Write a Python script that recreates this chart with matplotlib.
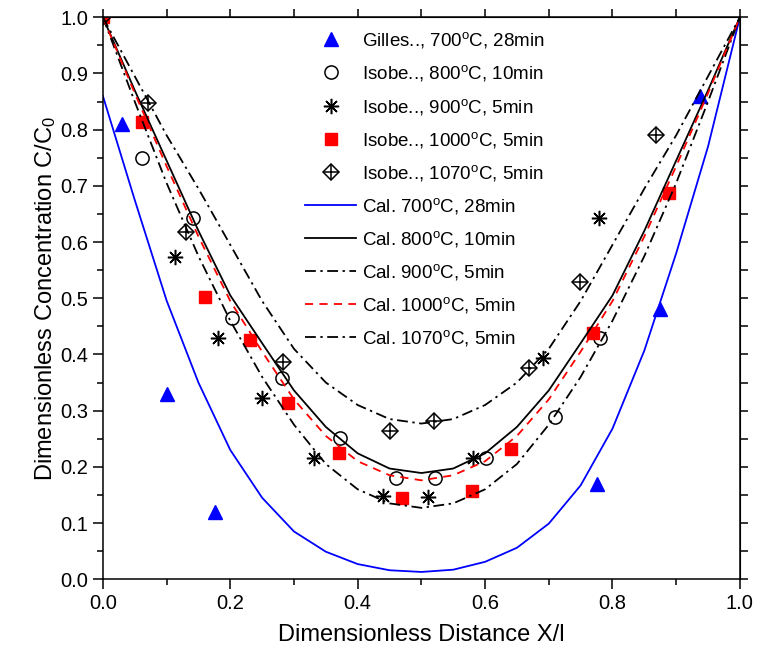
# ------------------------------------------------------------------ #
# Concentration profiles: measured points and calculated curves
# ------------------------------------------------------------------ #
import matplotlib
matplotlib.use("Agg")
import matplotlib.pyplot as plt

plt.rcParams['font.family'] = ['Liberation Sans', 'DejaVu Sans']
plt.rcParams['mathtext.fontset'] = 'custom'
plt.rcParams['mathtext.rm'] = 'Liberation Sans'
plt.rcParams['mathtext.it'] = 'Liberation Sans:italic'

# ------------------------------------------------------------------ #
# Measured data
# ------------------------------------------------------------------ #
gilles_x = [0.03, 0.10, 0.176, 0.776, 0.874, 0.937]
gilles_y = [0.81, 0.33, 0.12, 0.17, 0.48, 0.86]

isobe800_x = [0.061, 0.141, 0.2025, 0.281, 0.372, 0.46, 0.521, 0.601, 0.71, 0.78]
isobe800_y = [0.75, 0.642, 0.464, 0.358, 0.251, 0.18, 0.18, 0.215, 0.288, 0.429]

isobe900_x = [0.113, 0.18, 0.25, 0.331, 0.44, 0.51, 0.581, 0.691, 0.779]
isobe900_y = [0.573, 0.429, 0.322, 0.215, 0.148, 0.146, 0.215, 0.393, 0.642]

isobe1000_x = [0.0, 0.061, 0.161, 0.231, 0.29, 0.37, 0.47, 0.58, 0.64, 0.77, 0.889]
isobe1000_y = [1.0, 0.813, 0.502, 0.425, 0.313, 0.225, 0.145, 0.157, 0.231, 0.438, 0.687]

isobe1070_x = [0.0, 0.071, 0.131, 0.283, 0.45, 0.52, 0.669, 0.749, 0.869]
isobe1070_y = [1.0, 0.847, 0.617, 0.386, 0.264, 0.282, 0.376, 0.529, 0.79]

# ------------------------------------------------------------------ #
# Calculated curves
# ------------------------------------------------------------------ #
cal_x = [0.0, 0.05, 0.1, 0.15, 0.2, 0.25, 0.3, 0.35, 0.4, 0.45, 0.5,
         0.55, 0.6, 0.65, 0.7, 0.75, 0.8, 0.85, 0.9, 0.95, 1.0]
cal700_y = [0.86, 0.675, 0.496, 0.35, 0.23, 0.145, 0.085, 0.049, 0.027, 0.016, 0.013,
            0.017, 0.031, 0.056, 0.099, 0.167, 0.268, 0.407, 0.58, 0.77, 1.0]
cal800_y = [1.0, 0.87, 0.745, 0.62, 0.505, 0.42, 0.336, 0.271, 0.224, 0.197, 0.189,
            0.197, 0.224, 0.271, 0.336, 0.42, 0.505, 0.62, 0.745, 0.87, 1.0]
cal900_y = [1.0, 0.85, 0.705, 0.575, 0.46, 0.36, 0.275, 0.205, 0.16, 0.135, 0.127,
            0.135, 0.16, 0.205, 0.275, 0.36, 0.46, 0.575, 0.705, 0.85, 1.0]
cal1000_y = [1.0, 0.865, 0.735, 0.61, 0.495, 0.405, 0.32, 0.255, 0.21, 0.185, 0.176,
             0.185, 0.21, 0.255, 0.32, 0.405, 0.495, 0.61, 0.735, 0.865, 1.0]
cal1070_y = [1.0, 0.895, 0.79, 0.695, 0.595, 0.495, 0.41, 0.35, 0.31, 0.285, 0.277,
             0.285, 0.31, 0.35, 0.41, 0.495, 0.595, 0.695, 0.79, 0.895, 1.0]

deg = r'$^{\mathrm{o}}$C'

# ------------------------------------------------------------------ #
# Plot
# ------------------------------------------------------------------ #
fig = plt.figure(figsize=(7.62, 6.62), dpi=100)
ax = fig.add_axes([0.135, 0.125, 0.836, 0.849])

h_g, = ax.plot(gilles_x, gilles_y, ls='none', marker='^', ms=10, color='blue')
h_8, = ax.plot(isobe800_x, isobe800_y, ls='none', marker='o', ms=9.5, mfc='white',
               mec='black', mew=1.1)
h_9, = ax.plot(isobe900_x, isobe900_y, ls='none', marker=(8, 2, 0), ms=11,
               color='black', mew=1.1)
h_10, = ax.plot(isobe1000_x, isobe1000_y, ls='none', marker='s', ms=9, color='red')
h_d, = ax.plot(isobe1070_x, isobe1070_y, ls='none', marker='D', ms=8, mfc='none',
               mec='black', mew=1.1)
h_p, = ax.plot(isobe1070_x, isobe1070_y, ls='none', marker='+', ms=11,
               color='black', mew=1.1)

c7, = ax.plot(cal_x, cal700_y, color='blue', lw=1.3)
c8, = ax.plot(cal_x, cal800_y, color='black', lw=1.3)
c9, = ax.plot(cal_x, cal900_y, color='black', lw=1.3, dashes=(6, 2.5, 1.3, 2.5))
c10, = ax.plot(cal_x, cal1000_y, color='red', lw=1.3, dashes=(4.5, 3.5))
c107, = ax.plot(cal_x, cal1070_y, color='black', lw=1.3, dashes=(6, 2.5, 1.3, 2.5))

handles = [h_g, h_8, h_9, h_10, (h_d, h_p), c7, c8, c9, c10, c107]
labels = ['Gilles.., 700' + deg + ', 28min',
          'Isobe.., 800' + deg + ', 10min',
          'Isobe.., 900' + deg + ', 5min',
          'Isobe.., 1000' + deg + ', 5min',
          'Isobe.., 1070' + deg + ', 5min',
          'Cal. 700' + deg + ', 28min',
          'Cal. 800' + deg + ', 10min',
          'Cal. 900' + deg + ', 5min',
          'Cal. 1000' + deg + ', 5min',
          'Cal. 1070' + deg + ', 5min']
ax.legend(handles, labels, loc='upper left', bbox_to_anchor=(0.306, 0.99),
          frameon=False, numpoints=1, fontsize=13.5, handlelength=2.7,
          handletextpad=0.3, labelspacing=0.7, borderaxespad=0)

# ------------------------------------------------------------------ #
# Axes, ticks and labels
# ------------------------------------------------------------------ #
ax.set_xlim(0, 1.0)
ax.set_ylim(0, 1.0)
ax.set_xticks([0.0, 0.2, 0.4, 0.6, 0.8, 1.0])
ax.set_xticks([0.1, 0.3, 0.5, 0.7, 0.9], minor=True)
ax.set_yticks([i / 10 for i in range(11)])
ax.set_yticks([i / 20 for i in range(1, 20, 2)], minor=True)
ax.xaxis.set_major_formatter(plt.FormatStrFormatter('%.1f'))
ax.yaxis.set_major_formatter(plt.FormatStrFormatter('%.1f'))
ax.tick_params(which='major', direction='out', length=7, width=1.1, labelsize=14.5)
ax.tick_params(which='minor', direction='out', length=4, width=1.1)

top = ax.secondary_xaxis('top')
top.set_xticks([i / 10 for i in range(11)])
top.tick_params(direction='out', length=6, width=1.1)
top.set_xticklabels([])
right = ax.secondary_yaxis('right')
right.set_yticks([i / 20 for i in range(21)])
right.tick_params(direction='out', length=6, width=1.1)
right.set_yticklabels([])

for s in ax.spines.values():
    s.set_linewidth(1.1)

ax.set_xlabel('Dimensionless Distance X/l', fontsize=17, labelpad=8)
ax.set_ylabel('Dimensionless Concentration C/C$_0$', fontsize=17, labelpad=2)

plt.savefig('out.png', dpi=100)
